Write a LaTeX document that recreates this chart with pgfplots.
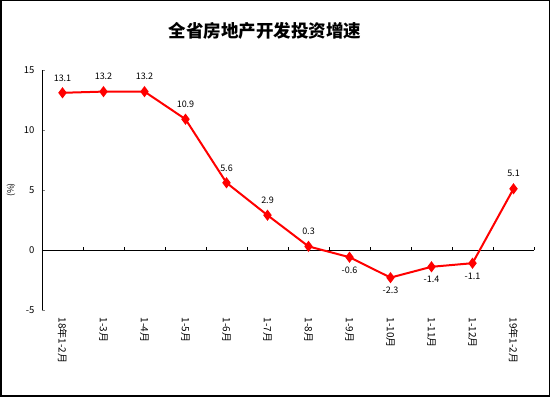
\documentclass[border=0pt]{standalone}
\usepackage{pgfplots}
\pgfplotsset{compat=1.18}
\usepackage{fontspec}
\setmainfont{Noto Sans CJK SC}
\definecolor{lred}{RGB}{255,0,0}
\begin{document}
\begin{tikzpicture}[x=1pt,y=1pt]
\draw[line width=1.5pt] (0.75,0.75) rectangle (549.25,396.25);
\node[font=\fontsize{17.5}{17.5}\selectfont\bfseries] at (265,366) {全省房地产开发投资增速};
\node[rotate=90,font=\fontsize{8.5}{8.5}\selectfont] at (11,207) {(\%)};
\begin{axis}[
  at={(42pt,87pt)}, anchor=south west,
  scale only axis, width=492pt, height=240pt,
  xmin=-0.5, xmax=11.5, ymin=-5, ymax=15,
  axis x line=bottom, axis y line=left,
  x axis line style={draw=none},
  y axis line style={-, line width=0.8pt},
  xtick={0,...,11},
  xticklabels={18年1-2月,1-3月,1-4月,1-5月,1-6月,1-7月,1-8月,1-9月,1-10月,1-11月,1-12月,19年1-2月},
  x tick style={draw=none},
  x tick label style={rotate=-90, anchor=west, font=\fontsize{10}{10}\selectfont, xshift=4pt},
  ytick={-5,0,5,10,15},
  y tick style={line width=0.8pt},
  tick align=inside, major tick length=3pt,
  y tick label style={font=\fontsize{9.5}{9.5}\selectfont, xshift=-4pt},
  /pgf/number format/assume math mode=true,
  clip=false,
]
\draw[line width=0.8pt] (axis cs:-0.5,0) -- (axis cs:11.5,0);
\pgfplotsinvokeforeach{0.5,1.5,2.5,3.5,4.5,5.5,6.5,7.5,8.5,9.5,10.5,11.5}{
  \draw[line width=0.8pt] (axis cs:#1,0) -- ([yshift=3pt]axis cs:#1,0);
}
\addplot[lred, line width=2pt, mark=diamond*, mark size=4pt, mark options={fill=lred, draw=lred}] coordinates {
(0,13.1) (1,13.2) (2,13.2) (3,10.9) (4,5.6) (5,2.9) (6,0.3) (7,-0.6) (8,-2.3) (9,-1.4) (10,-1.1) (11,5.1)};
\addplot[draw=none, mark=none, nodes near coords, point meta=explicit symbolic,
  every node near coord/.append style={font=\fontsize{9}{9}\selectfont, anchor=center, yshift=15pt}] coordinates {
(0,13.1) [13.1] (1,13.2) [13.2] (2,13.2) [13.2] (3,10.9) [10.9] (4,5.6) [5.6] (5,2.9) [2.9] (6,0.3) [0.3] (11,5.1) [5.1]};
\addplot[draw=none, mark=none, nodes near coords, point meta=explicit symbolic,
  every node near coord/.append style={font=\fontsize{9}{9}\selectfont, anchor=center, yshift=-13pt}] coordinates {
(7,-0.6) [-0.6] (8,-2.3) [-2.3] (9,-1.4) [-1.4] (10,-1.1) [-1.1]};
\end{axis}
\end{tikzpicture}
\end{document}
